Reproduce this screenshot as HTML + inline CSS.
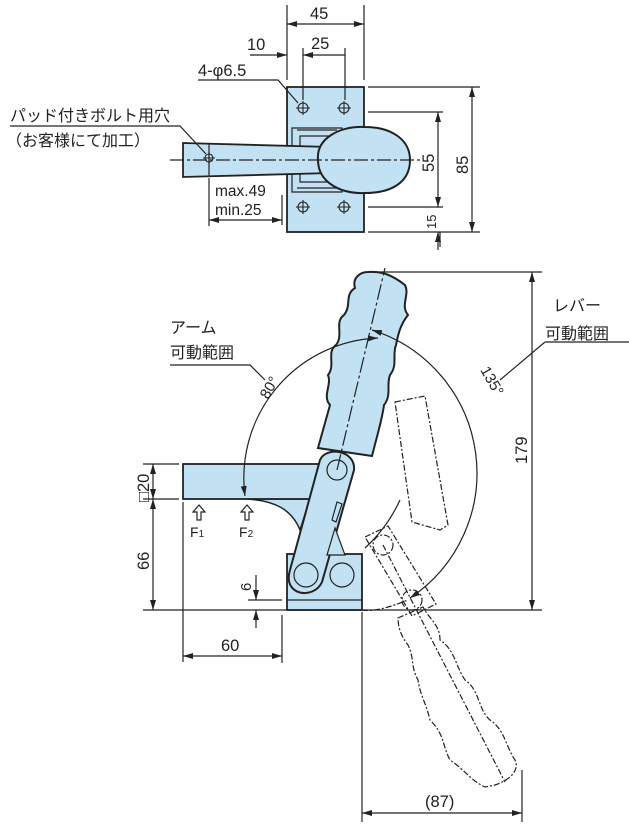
<!DOCTYPE html>
<html><head><meta charset="utf-8"><style>
html,body{margin:0;padding:0;background:#fff}
svg{display:block}
text{font-family:"Liberation Sans","Noto Sans CJK JP",sans-serif;fill:#222}
</style></head><body>
<svg width="629" height="825" viewBox="0 0 629 825" xmlns="http://www.w3.org/2000/svg">
<defs>
<marker id="a" viewBox="0 0 10 10" refX="10" refY="5" markerWidth="10" markerHeight="10" orient="auto-start-reverse" markerUnits="userSpaceOnUse"><path d="M0,2 L10,5 L0,8z" fill="#222"/></marker>
</defs>
<g stroke="#222" stroke-width="1.2" fill="none">
<!-- TOP VIEW -->
<rect x="287" y="87" width="77" height="145" fill="#c2e2f4" stroke-width="1.8"/>
<path d="M292,128 h50 v64 h-50z" fill="#c2e2f4"/>
<path d="M297,130 h40 M297,188 h40 M300,136 h30 v46 h-30z" />
<path d="M183,143 L330,147 L330,173 L183,177 Z" fill="#c2e2f4" stroke-width="1.8"/>
<line x1="209" y1="143" x2="209" y2="177"/>
<path d="M318,160 C316,138 340,126 365,127 C392,127 410,140 410,160 C410,182 392,193 365,193 C340,194 318,182 318,160Z" fill="#c2e2f4" stroke-width="2"/>
<line x1="170" y1="160" x2="422" y2="160" stroke-dasharray="14,3,3,3"/>
<g stroke-width="1.1">
<circle cx="303" cy="108" r="5"/><circle cx="344" cy="108" r="5"/><circle cx="303" cy="207" r="5"/><circle cx="344" cy="207" r="5"/>
<path d="M296,108h14M303,101v14M337,108h14M344,101v14M296,207h14M303,200v14M337,207h14M344,200v14"/>
<circle cx="209" cy="158" r="4"/><path d="M203,158h12M209,152v12"/>
</g>
<!-- top dims -->
<path d="M287,5v75M364,5v75M303,48v52M345,48v52"/>
<line x1="287" y1="24" x2="364" y2="24" marker-start="url(#a)" marker-end="url(#a)"/>
<line x1="303" y1="55" x2="345" y2="55" marker-start="url(#a)"/>
<line x1="250" y1="55" x2="287" y2="55" marker-end="url(#a)"/>
<path d="M198,80h80l20,23"/>
<path d="M368,87h112M368,232h112M368,112h75M368,207h75M440,232v15"/>
<line x1="472" y1="87" x2="472" y2="232" marker-start="url(#a)" marker-end="url(#a)"/>
<line x1="438" y1="112" x2="438" y2="207" marker-start="url(#a)" marker-end="url(#a)"/>
<line x1="438" y1="250" x2="438" y2="232" marker-end="url(#a)"/>
<path d="M209,178v48M282,195v30"/>
<line x1="209" y1="220" x2="282" y2="220" marker-start="url(#a)" marker-end="url(#a)"/>
<path d="M10,126h170l26,28"/>

<!-- SIDE VIEW -->
<path d="M245,499 C275,500 292,510 300,530 L310,499Z" fill="#c2e2f4" stroke-width="1.5"/>
<rect x="183" y="464" width="140" height="35" fill="#c2e2f4" stroke-width="1.8"/>
<rect x="287" y="554" width="75" height="56" fill="#c2e2f4" stroke-width="1.8"/>
<line x1="287" y1="600" x2="362" y2="600"/>
<path d="M318,448 L330,405 C322,396 332,385 328,375 C336,365 326,352 336,345 C344,335 334,322 344,315 C352,305 344,295 355,288 C352,278 360,272 368,272 C382,271 392,275 405,285 C410,295 400,305 408,315 C400,325 398,335 396,345 C392,355 398,365 390,375 C386,385 392,395 384,405 C382,420 378,432 372,456 Z" fill="#c2e2f4" stroke-width="2"/>
<path d="M290,570 L320,460 C326,446 356,450 354,470 L322,582 C314,600 282,596 290,570Z" fill="#c2e2f4" stroke-width="2"/>
<path d="M332,520 l5,-18 l5,2 l-6,18z M335,528 l10,27 l-18,0z" fill="#c2e2f4"/>
<circle cx="337" cy="470" r="10"/>
<circle cx="306" cy="575" r="12"/>
<circle cx="342" cy="575" r="12"/>
<line x1="337" y1="470" x2="385" y2="268" stroke-dasharray="16,3,3,3"/>
<g stroke-dasharray="6,2,2,2">
<path d="M395,402 L425,396 L448,525 L440,530 L412,522 Z"/>
<path d="M365,537 L388,526 L436,604 L412,616 Z"/>
<circle cx="383" cy="545" r="10"/><circle cx="412" cy="600" r="10"/>
<path d="M398,618 L423,607 C430,620 440,625 440,640 C455,650 455,665 465,680 C480,690 478,710 490,720 C505,730 505,745 515,760 C520,770 510,780 495,785 L485,787 C470,780 465,770 450,760 C442,745 445,735 430,720 C425,700 420,695 418,680 C410,665 415,660 408,645 C400,635 398,625 398,618Z"/>
<line x1="383" y1="545" x2="505" y2="782"/>
<path d="M362,610 C375,612 390,607 408,600"/>
</g>
<path d="M372,330 A150,150 0 0 1 410,598" marker-start="url(#a)" marker-end="url(#a)"/>
<path d="M378,338 A140,140 0 0 0 245,496" marker-start="url(#a)" marker-end="url(#a)"/>
<path d="M365,548 A150,150 0 0 0 400,500"/>
<path d="M372,272h170M143,610h399M143,464h36M143,499h36M248,600h34M248,610h34M183,502v160M282,615v48M362,612v210M522,770v52"/>
<line x1="532" y1="272" x2="532" y2="610" marker-start="url(#a)" marker-end="url(#a)"/>
<line x1="153" y1="464" x2="153" y2="499" marker-start="url(#a)" marker-end="url(#a)"/>
<line x1="153" y1="499" x2="153" y2="610" marker-start="url(#a)" marker-end="url(#a)"/>
<line x1="256" y1="575" x2="256" y2="600" marker-end="url(#a)"/>
<line x1="256" y1="628" x2="256" y2="610" marker-end="url(#a)"/>
<line x1="183" y1="656" x2="282" y2="656" marker-start="url(#a)" marker-end="url(#a)"/>
<line x1="362" y1="813" x2="522" y2="813" marker-start="url(#a)" marker-end="url(#a)"/>
<path d="M545,342h84M545,342l-45,38"/>
<path d="M170,365h80l15,15"/>
<path d="M199,505 l-6,7 h4 v8 h4 v-8 h4z M247,505 l-6,7 h4 v8 h4 v-8 h4z"/>
</g>
<g font-size="16.5">
<text x="310" y="19">45</text>
<text x="247" y="50">10</text>
<text x="311" y="49">25</text>
<text x="198" y="76">4-φ6.5</text>
<text x="10" y="121" font-size="16">パッド付きボルト用穴</text>
<text x="6" y="146" font-size="16">（お客様にて加工）</text>
<text x="215" y="196" font-size="15.5">max.49</text>
<text x="215" y="215" font-size="15.5">min.25</text>
<text transform="translate(434,172) rotate(-90)">55</text>
<text transform="translate(468,174) rotate(-90)">85</text>
<text transform="translate(436,229) rotate(-90)" font-size="13">15</text>
<text x="553" y="311" font-size="16">レバー</text>
<text x="545" y="339" font-size="16">可動範囲</text>
<text x="170" y="333" font-size="16">アーム</text>
<text x="170" y="358" font-size="16">可動範囲</text>
<text transform="translate(268,400) rotate(-60)" font-size="15">80°</text>
<text transform="translate(480,370) rotate(60)" font-size="15">135°</text>
<text transform="translate(527,464) rotate(-90)">179</text>
<text transform="translate(149,502) rotate(-90)">□20</text>
<text transform="translate(149,570) rotate(-90)">66</text>
<text transform="translate(251,591) rotate(-90)" font-size="15">6</text>
<text x="221" y="651">60</text>
<text x="425" y="807">(87)</text>
<text x="190" y="537" font-size="14">F<tspan font-size="10">1</tspan></text>
<text x="239" y="537" font-size="14">F<tspan font-size="10">2</tspan></text>
</g>
</svg>
</body></html>
